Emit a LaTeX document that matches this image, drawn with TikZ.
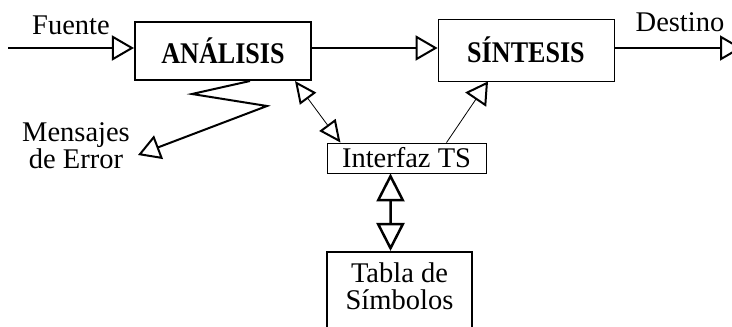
\documentclass[tikz,border=0pt]{standalone}
\usepackage{fontspec}
\setmainfont{Liberation Serif}
\usetikzlibrary{arrows.meta}
\newcommand{\narrow}[1]{\scalebox{0.87}[1]{#1}}
\tikzset{
  thickbox/.style={draw, line width=2pt, inner sep=0pt},
  thinbox/.style={draw, line width=0.8pt, inner sep=0pt},
  head/.style={-{Triangle[open,length=22pt,width=25pt,line width=2pt]}},
  bighead/.style={{Triangle[open,length=28pt,width=28pt,line width=2.5pt]}-{Triangle[open,length=28pt,width=28pt,line width=2.5pt]}},
  twohead/.style={{Triangle[open,length=22pt,width=20pt,line width=2pt]}-{Triangle[open,length=22pt,width=20pt,line width=2pt]}},
  big/.style={font=\fontsize{28.5}{27}\selectfont},
  bigbf/.style={font=\fontsize{30}{27}\selectfont\bfseries},
}
\begin{document}
\begin{tikzpicture}
    \def\x{0.035146}
    \def\y{-0.035146}
    \clip (0,0) rectangle (732*\x, 327*\y);
    \node[thickbox, bigbf, minimum width=176pt, minimum height=58pt] (A0_0) at (223*\x, 51*\y) {\narrow{ANÁLISIS}};
    \node[thinbox, bigbf, minimum width=176pt, minimum height=62pt] (A0_1) at (526*\x, 50*\y) {\narrow{SÍNTESIS}};
    \node[thinbox, big, minimum width=159pt, minimum height=30pt] (A1_1) at (406.5*\x, 158*\y) {Interfaz TS};
    \node[thickbox, big, minimum width=145pt, minimum height=100pt, align=center, text depth=32pt] (A2_1) at (399.5*\x, 302*\y) {Tabla de\\Símbolos};
    \node[big, anchor=base] (F) at (71*\x, 35*\y) {Fuente};
    \node[big, anchor=base] (D) at (680*\x, 32*\y) {Destino};
    \node[big, align=center, font=\fontsize{28.5}{25}\selectfont] (M) at (76*\x, 146*\y) {Mensajes\\de Error};
    \coordinate (in) at (8*\x, 48*\y);
    \coordinate (out) at (742*\x, 48*\y);
    \coordinate (z1) at (192*\x, 94*\y);
    \coordinate (z2) at (267*\x, 106*\y);
    \coordinate (err) at (138*\x, 155*\y);
    % main flow
    \path (in) edge [head, line width=2pt] (in -| A0_0.west);
    \path (A0_0.east |- in) edge [head, line width=2pt] (A0_1.west |- in);
    \path (A0_1.east |- in) edge [head, line width=2pt] (out);
    % error messages
    \draw [head, line width=2pt] (A0_0.south) ++(27pt,0) -- (z1) -- (z2) -- (err);
    % symbol table interface
    \path ([xshift=72pt]A0_0.south) edge [twohead, line width=0.8pt] ([xshift=-66pt]A1_1.north);
    \path ([xshift=40pt]A1_1.north) edge [head, line width=0.8pt] ([xshift=-38pt]A0_1.south);
    \path ([xshift=-16pt]A1_1.south) edge [bighead, line width=2.5pt] ([xshift=-9pt]A2_1.north);
  \end{tikzpicture}
\end{document}
